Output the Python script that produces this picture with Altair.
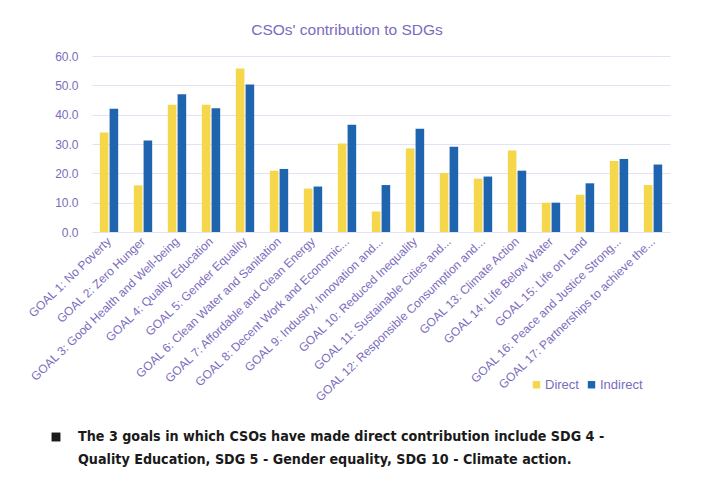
import altair as alt
import pandas as pd

goals = [
    "GOAL 1: No Poverty",
    "GOAL 2: Zero Hunger",
    "GOAL 3: Good Health and Well-being",
    "GOAL 4: Quality Education",
    "GOAL 5: Gender Equality",
    "GOAL 6: Clean Water and Sanitation",
    "GOAL 7: Affordable and Clean Energy",
    "GOAL 8: Decent Work and Economic...",
    "GOAL 9: Industry, Innovation and...",
    "GOAL 10: Reduced Inequality",
    "GOAL 11: Sustainable Cities and...",
    "GOAL 12: Responsible Consumption and...",
    "GOAL 13: Climate Action",
    "GOAL 14: Life Below Water",
    "GOAL 15: Life on Land",
    "GOAL 16: Peace and Justice Strong...",
    "GOAL 17: Partnerships to achieve the...",
]
direct = [33.9, 15.9, 43.4, 43.4, 55.7, 20.9, 14.8, 30.2, 7.0, 28.5, 20.1, 18.2, 27.8, 10.0, 12.7, 24.2, 16.0]
indirect = [42.0, 31.2, 47.0, 42.2, 50.3, 21.5, 15.5, 36.6, 16.0, 35.2, 29.1, 18.9, 20.9, 10.0, 16.6, 24.9, 23.0]
series = ["Direct", "Indirect"]
colors = ["#F6D64A", "#1F64AF"]

note_lines = [
    "The 3 goals in which CSOs have made direct contribution include SDG 4 -",
    "Quality Education, SDG 5 - Gender equality, SDG 10 - Climate action.",
]

rows = []
for g, d, i in zip(goals, direct, indirect):
    rows.append({"goal": g, "series": "Direct", "value": d})
    rows.append({"goal": g, "series": "Indirect", "value": i})
df = pd.DataFrame(rows)

purple = "#7B6BBD"
font = "Liberation Sans"

bars = alt.Chart(df).mark_bar().encode(
    x=alt.X("goal:N", sort=goals, title=None,
            scale=alt.Scale(paddingInner=0.46, paddingOuter=0.23),
            axis=alt.Axis(labelAngle=-44, labelAlign="right", labelBaseline="middle",
                          labelPadding=7, labelLimit=400, ticks=False, domain=False,
                          labelColor=purple, labelFont=font, labelFontSize=12)),
    xOffset=alt.XOffset("series:N", sort=series, scale=alt.Scale(paddingInner=0.12)),
    y=alt.Y("value:Q", title=None,
            scale=alt.Scale(domain=[0, 60]),
            axis=alt.Axis(values=[0, 10, 20, 30, 40, 50, 60], format=".1f", ticks=False,
                          domain=False, labelPadding=14, gridColor="#E4E1F4", gridWidth=1.2,
                          labelColor=purple, labelFont=font, labelFontSize=12)),
    color=alt.Color("series:N", sort=series,
                    scale=alt.Scale(domain=series, range=colors),
                    legend=alt.Legend(title=None, orient="none", legendX=438, legendY=322,
                                      direction="horizontal", symbolType="square",
                                      symbolSize=55, symbolStrokeWidth=0, columnPadding=6,
                                      labelColor=purple, labelFont=font, labelFontSize=13,
                                      labelOffset=2)),
)

anno = pd.DataFrame({"k": [0]})
bullet = alt.Chart(anno).mark_square(size=80, color="#1a1a1a", opacity=1).encode(
    x=alt.value(-36), y=alt.value(381)
)
note = alt.Chart(anno).mark_text(
    align="left", baseline="middle", font="DejaVu Sans Condensed", fontSize=14.2,
    fontWeight="bold", color="#1a1a1a", lineHeight=23
).encode(
    x=alt.value(-14), y=alt.value(381), text=alt.value(note_lines)
)

chart = alt.layer(bars, bullet, note).properties(
    width=578, height=176,
    autosize=alt.AutoSizeParams(type="none"),
    padding={"left": 84, "top": 48, "right": 23, "bottom": 250},
    title=alt.TitleParams("CSOs' contribution to SDGs", color=purple, font=font,
                          fontSize=15.5, fontWeight="normal", anchor="middle",
                          dx=-34, offset=12),
    background="white",
).configure_view(stroke=None)

chart.save("out.html", embed_options={"renderer": "svg", "actions": False})
